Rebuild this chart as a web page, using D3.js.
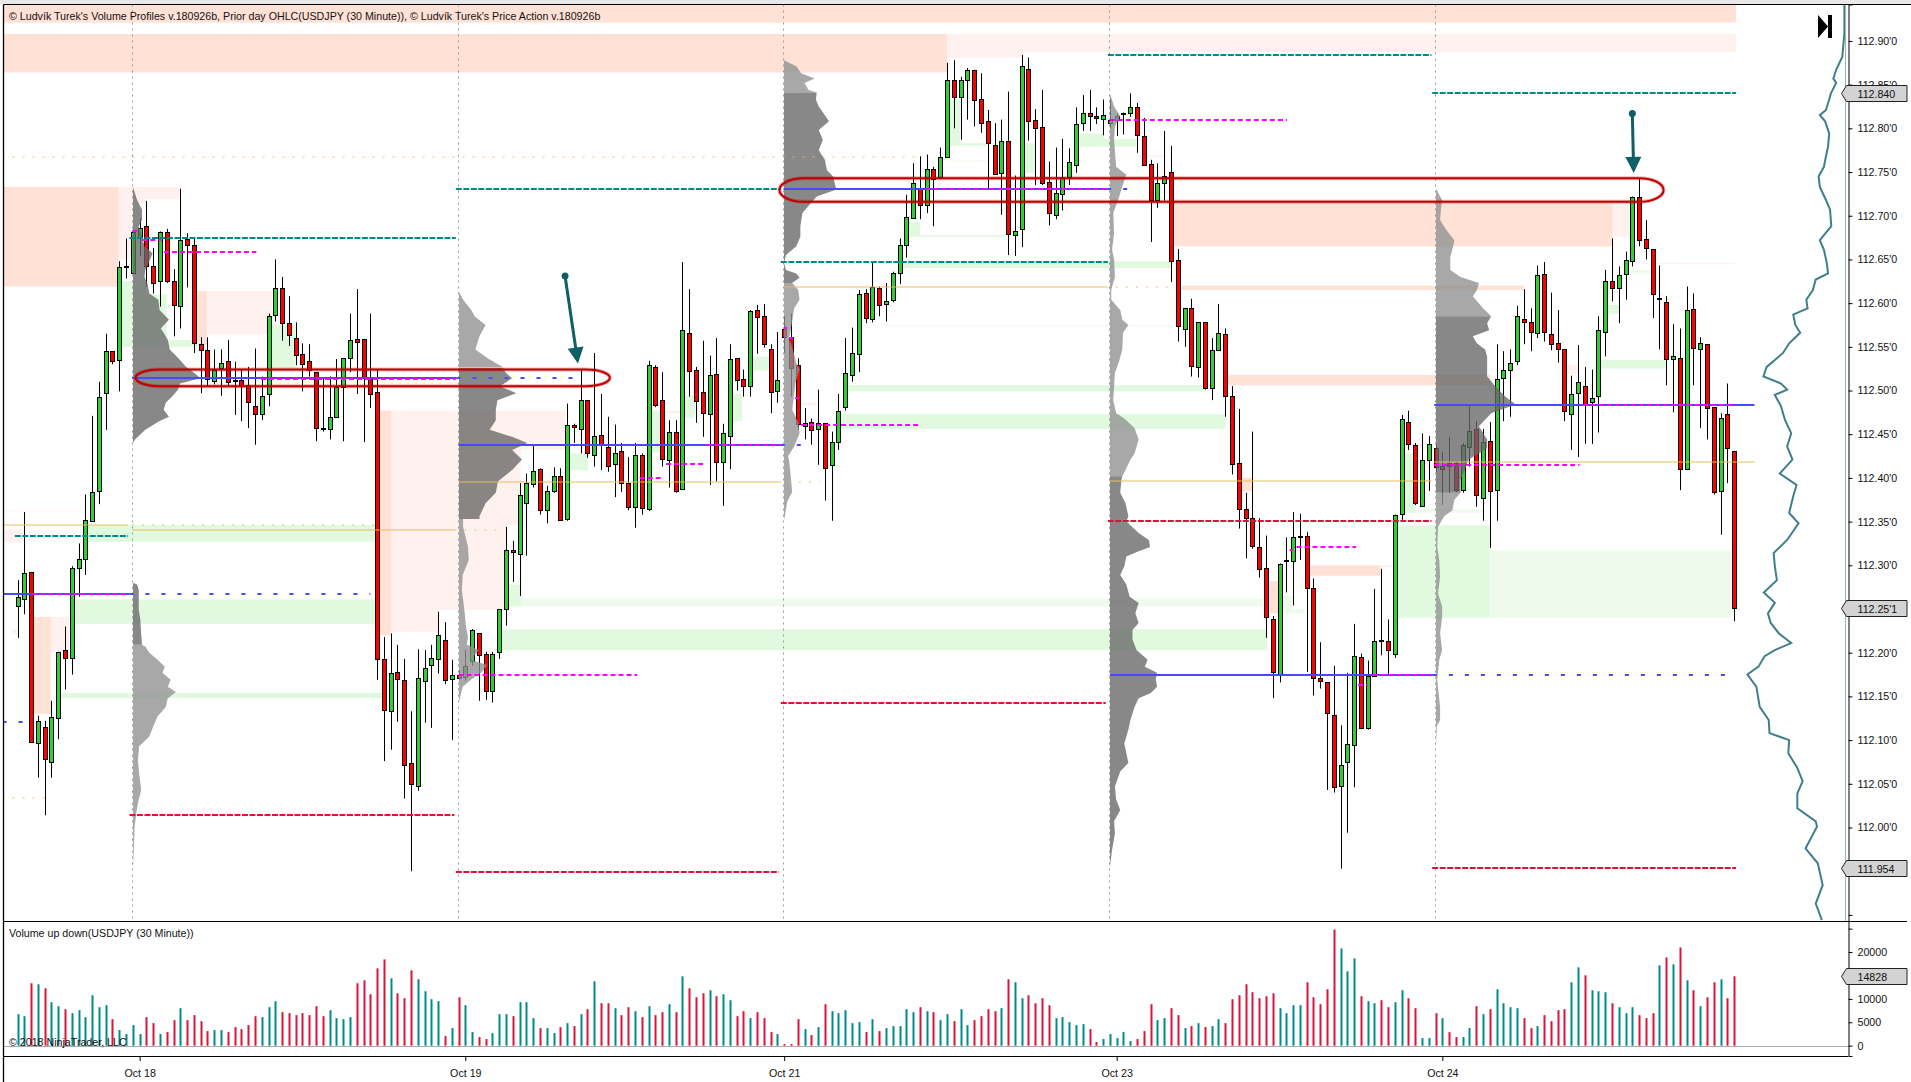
<!DOCTYPE html>
<html>
<head>
<meta charset="utf-8">
<title>USDJPY 30 Minute</title>
<script src="https://cdn.jsdelivr.net/npm/d3@7"></script>
<style>
  html, body { margin: 0; padding: 0; background: #fff; overflow: hidden; }
  text { font-family: "Liberation Sans", Arial, sans-serif; font-size: 10.67px; fill: #111; }
</style>
</head>
<body>
<div id="chart"></div>
<script>
// candles, one entry per 30 minute bar
var opens = [
112.254,112.261,112.292,112.097,112.115,112.074,112.126,112.203,112.194,112.297,
112.307,112.351,112.386,112.497,112.545,112.535,112.641,112.634,112.674,112.688,
112.643,112.625,112.681,112.625,112.597,112.673,112.666,112.553,112.546,112.511,
112.526,112.534,112.512,112.512,112.506,112.482,112.473,112.496,112.586,112.617,
112.577,112.560,112.542,112.534,112.521,112.457,112.456,112.470,112.504,112.537,
112.559,112.559,112.516,112.498,112.193,112.134,112.178,112.169,112.074,112.047,
112.167,112.186,112.193,112.215,112.169,112.175,112.172,112.190,112.222,112.198,
112.157,112.201,112.249,112.318,112.312,112.371,112.393,112.410,112.363,112.385,
112.402,112.352,112.460,112.456,112.489,112.426,112.449,112.435,112.415,112.431,
112.394,112.366,112.426,112.364,112.527,112.489,112.421,112.453,112.387,112.566,
112.524,112.498,112.473,112.519,112.418,112.448,112.537,112.513,112.505,112.592,
112.585,112.547,112.499,112.570,112.561,112.529,112.460,112.464,112.456,112.463,
112.415,112.441,112.481,112.518,112.542,112.612,112.581,112.617,112.599,112.603,
112.635,112.666,112.697,112.731,112.713,112.754,112.744,112.767,112.855,112.836,
112.855,112.867,112.833,112.808,112.781,112.748,112.785,112.678,112.685,112.868,
112.809,112.801,112.739,112.701,112.725,112.744,112.758,112.805,112.817,112.814,
112.810,112.805,112.809,112.816,112.817,112.824,112.791,112.759,112.718,112.737,
112.750,112.649,112.570,112.594,112.526,112.578,112.503,112.546,112.565,112.494,
112.417,112.364,112.354,112.321,112.297,112.238,112.175,112.305,112.304,112.333,
112.333,112.274,112.171,112.166,112.129,112.047,112.075,112.094,112.195,112.114,
112.173,112.214,112.213,112.199,112.358,112.464,112.438,112.368,112.421,112.434,
112.410,112.417,112.417,112.386,112.436,112.456,112.377,112.442,112.386,112.514,
112.524,112.534,112.582,112.578,112.566,112.633,112.565,112.554,112.547,112.473,
112.497,112.505,112.486,112.494,112.567,112.625,112.617,112.633,112.649,112.722,
112.673,112.662,112.605,112.601,112.535,112.537,112.410,112.593,112.547,112.553,
112.481,112.385,112.473,112.431];

var closes = [
112.264,112.291,112.098,112.122,112.078,112.126,112.201,112.194,112.297,112.307,
112.352,112.384,112.493,112.545,112.534,112.641,112.642,112.681,112.686,112.642,
112.624,112.681,112.625,112.597,112.672,112.666,112.554,112.546,112.513,112.524,
112.532,112.510,112.511,112.505,112.486,112.473,112.494,112.585,112.617,112.577,
112.563,112.540,112.530,112.524,112.457,112.456,112.470,112.504,112.537,112.558,
112.556,112.516,112.497,112.193,112.135,112.177,112.170,112.072,112.050,112.171,
112.182,112.194,112.220,112.169,112.174,112.172,112.185,112.226,112.197,112.156,
112.199,112.250,112.317,112.316,112.380,112.394,112.408,112.363,112.385,112.402,
112.352,112.460,112.458,112.489,112.428,112.448,112.439,112.413,112.428,112.394,
112.366,112.426,112.365,112.529,112.484,112.421,112.453,112.386,112.569,112.523,
112.489,112.474,112.518,112.418,112.451,112.536,112.512,112.505,112.591,112.584,
112.553,112.498,112.512,112.561,112.526,112.461,112.463,112.455,112.463,112.412,
112.441,112.477,112.520,112.543,112.611,112.583,112.618,112.598,112.603,112.634,
112.667,112.698,112.737,112.713,112.754,112.743,112.767,112.855,112.836,112.855,
112.867,112.833,112.806,112.783,112.748,112.785,112.679,112.683,112.871,112.809,
112.800,112.737,112.703,112.726,112.744,112.761,112.805,112.817,112.814,112.812,
112.815,112.809,112.814,112.817,112.824,112.792,112.758,112.718,112.737,112.745,
112.648,112.574,112.594,112.528,112.578,112.503,112.546,112.566,112.494,112.416,
112.364,112.354,112.322,112.296,112.241,112.177,112.302,112.306,112.332,112.334,
112.273,112.171,112.167,112.130,112.047,112.071,112.096,112.196,112.114,112.173,
112.213,112.213,112.203,112.358,112.467,112.439,112.372,112.421,112.439,112.412,
112.414,112.414,112.386,112.438,112.454,112.380,112.441,112.385,112.513,112.523,
112.532,112.585,112.578,112.566,112.632,112.567,112.554,112.547,112.476,112.496,
112.510,112.484,112.491,112.569,112.625,112.617,112.632,112.649,112.722,112.673,
112.663,112.611,112.606,112.536,112.539,112.410,112.592,112.548,112.554,112.480,
112.384,112.468,112.434,112.251];

var highs = [
112.283,112.361,112.292,112.128,112.122,112.145,112.201,112.230,112.299,112.325,
112.381,112.471,112.510,112.565,112.545,112.648,112.674,112.681,112.697,112.717,
112.663,112.682,112.685,112.639,112.731,112.680,112.674,112.561,112.561,112.547,
112.547,112.558,112.533,112.524,112.527,112.548,112.516,112.588,112.650,112.630,
112.608,112.578,112.554,112.553,112.521,112.514,112.516,112.536,112.537,112.588,
112.616,112.559,112.588,112.524,112.218,112.222,112.209,112.193,112.133,112.204,
112.203,112.209,112.247,112.235,112.192,112.180,112.203,112.227,112.222,112.201,
112.201,112.250,112.344,112.328,112.394,112.405,112.437,112.411,112.391,112.412,
112.411,112.485,112.462,112.524,112.489,112.543,112.496,112.470,112.461,112.440,
112.424,112.440,112.428,112.534,112.529,112.521,112.466,112.466,112.647,112.616,
112.527,112.557,112.540,112.560,112.462,112.553,112.537,112.524,112.592,112.598,
112.599,112.553,112.567,112.585,112.588,112.537,112.480,112.468,112.501,112.463,
112.453,112.496,112.560,112.572,112.615,112.616,112.646,112.619,112.623,112.636,
112.674,112.724,112.760,112.768,112.770,112.756,112.778,112.875,112.878,112.859,
112.869,112.867,112.863,112.821,112.806,112.810,112.842,112.746,112.884,112.881,
112.822,112.844,112.762,112.778,112.788,112.777,112.824,112.838,112.844,112.824,
112.833,112.833,112.817,112.818,112.840,112.829,112.812,112.764,112.760,112.797,
112.780,112.662,112.594,112.605,112.578,112.578,112.560,112.599,112.571,112.505,
112.479,112.383,112.453,112.354,112.334,112.242,112.302,112.332,112.361,112.359,
112.338,112.285,112.212,112.166,112.185,112.117,112.177,112.233,112.199,112.191,
112.273,112.296,112.238,112.358,112.472,112.477,112.440,112.451,112.448,112.438,
112.430,112.447,112.419,112.440,112.482,112.465,112.456,112.464,112.553,112.545,
112.547,112.597,112.616,112.594,112.643,112.647,112.612,112.592,112.547,112.517,
112.552,112.527,112.524,112.585,112.638,112.674,112.642,112.659,112.722,112.742,
112.695,112.662,112.643,112.608,112.576,112.571,112.619,112.611,112.561,112.553,
112.481,112.474,112.508,112.431];

var lows = [
112.217,112.244,112.098,112.057,112.014,112.057,112.101,112.158,112.175,112.264,
112.289,112.350,112.370,112.455,112.530,112.499,112.628,112.634,112.654,112.619,
112.611,112.596,112.623,112.562,112.571,112.618,112.543,112.497,112.505,112.507,
112.494,112.505,112.472,112.465,112.457,112.438,112.466,112.482,112.579,112.557,
112.551,112.529,112.499,112.516,112.442,112.453,112.444,112.470,112.442,112.521,
112.496,112.441,112.480,112.169,112.076,112.089,112.121,112.033,111.950,112.042,
112.120,112.114,112.176,112.164,112.100,112.169,112.168,112.185,112.145,112.146,
112.143,112.193,112.231,112.281,112.265,112.311,112.389,112.358,112.348,112.383,
112.351,112.351,112.440,112.428,112.423,112.413,112.409,112.407,112.378,112.384,
112.363,112.343,112.358,112.362,112.481,112.413,112.389,112.383,112.386,112.493,
112.463,112.447,112.392,112.396,112.368,112.410,112.500,112.493,112.493,112.542,
112.549,112.474,112.486,112.543,112.493,112.455,112.444,112.438,112.415,112.374,
112.351,112.432,112.477,112.510,112.521,112.577,112.578,112.585,112.579,112.601,
112.622,112.652,112.697,112.696,112.703,112.688,112.743,112.767,112.800,112.787,
112.810,112.802,112.795,112.731,112.747,112.701,112.655,112.654,112.664,112.786,
112.735,112.735,112.689,112.696,112.706,112.735,112.749,112.797,112.797,112.805,
112.792,112.800,112.791,112.793,112.813,112.772,112.757,112.670,112.709,112.717,
112.624,112.556,112.550,112.516,112.515,112.501,112.489,112.546,112.470,112.404,
112.342,112.308,112.319,112.286,112.217,112.148,112.166,112.269,112.254,112.306,
112.178,112.151,112.159,112.043,112.040,111.953,111.994,112.046,112.114,112.112,
112.173,112.197,112.175,112.194,112.352,112.432,112.369,112.367,112.385,112.407,
112.369,112.383,112.384,112.383,112.413,112.367,112.351,112.320,112.351,112.465,
112.470,112.529,112.553,112.545,112.560,112.556,112.546,112.532,112.465,112.432,
112.424,112.439,112.439,112.452,112.539,112.602,112.577,112.604,112.642,112.665,
112.650,112.583,112.547,112.506,112.475,112.386,112.410,112.506,112.457,112.444,
112.381,112.335,112.394,112.236];

var volumes = [
6736,6310,13329,13117,12266,9288,8437,7799,6948,7586,
6097,10777,8224,8650,5672,3332,2482,4396,2482,6097,
4821,2482,2907,5459,8012,5459,6523,5247,3120,3332,
3332,2907,3970,3545,4396,6310,6097,8224,9501,7161,
6948,6523,6948,6523,8437,6310,7586,5885,5672,6097,
13329,13967,10990,16520,18434,14393,11202,10139,16094,14180,
11628,9926,9501,2056,3758,10351,8650,2907,1843,1418,
2694,6736,6736,6310,9288,9288,5885,3758,3758,2694,
3970,4821,4183,6736,7799,13755,9075,9075,8012,6523,
8224,7374,
6097,8437,6523,7161,8863,7161,14818,12266,10351,11202,
11840,10564,10990,9713,6310,7374,5885,7161,5885,2907,
2482,355,355,5672,3545,2269,3970,8863,7374,6948,
7586,4821,5034,2907,5672,3120,3758,4183,4183,7799,
7161,8224,7374,7161,5459,6736,5247,7799,4396,5459,
6310,7799,7374,8012,14180,13542,10139,10777,9075,10139,
8650,5885,6097,5034,4396,4609,3545,780,1418,2482,
1631,2907,993,1418,3120,8863,5459,5885,8012,6523,
3758,4183,4821,3970,4183,5672,4821,9926,10777,13117,
11415,10139,10564,11202,8012,
6948,8650,8650,13542,10351,8863,12053,24815,20774,15882,
18647,10564,9501,9075,9713,8224,9288,11840,10139,8012,
1631,1631,6948,5885,2907,1843,1843,3758,8437,6736,
7799,12053,9075,8224,8012,5885,3758,4183,6523,5247,
7586,7799,13542,16732,15031,11840,11628,11415,9075,8224,
6948,8224,6523,5885,6948,17158,18859,17371,20986,13967,
11840,8437,10351,13542,14180,10139,14828];

var dayBars = [17, 65, 113, 161, 209];          // session separators
var dayTickBars = [18, 66, 113, 162, 210];      // where the date ticks sit
var dayLabels = ["Oct 18", "Oct 19", "Oct 21", "Oct 23", "Oct 24"];
var priceTicks = [112.90,112.85,112.80,112.75,112.70,112.65,112.60,112.55,112.50,112.45,112.40,112.35,112.30,112.25,112.20,112.15,112.10,112.05,112.00,111.95,111.90];
var volumeTicks = [0,5000,10000,15000,20000,25000];
var volumeLabels = [0,5000,10000,20000];

// zones: first bar, last bar, upper price, lower price
var zonesPeachDark = [
[-2.2,253.3,112.942,112.921],[-2.2,137,112.908,112.864],[-2.2,14.9,112.733,112.619],
[26.2,27.9,112.614,112.552],[53.1,55.1,112.477,112.220],[2,4.9,112.241,112.130],
[170.4,235.1,112.714,112.665],[171.3,222,112.620,112.615],[178.2,217.1,112.518,112.506],
[180.2,182,112.400,112.385],[184,186.1,112.282,112.245],[190,200.9,112.300,112.288]];
var zonesPeachLight = [
[137,148,112.908,112.881],[148,253.3,112.908,112.887],[14.9,16.9,112.733,112.650],
[16.9,18.9,112.733,112.714],[18.9,23.9,112.733,112.719],[27.9,37.6,112.614,112.564],
[55.1,62,112.477,112.224],[62,72,112.477,112.249],[72,74.2,112.477,112.346],
[74.2,80.8,112.477,112.432],[-1.9,0.7,112.341,112.326],[-2.2,9.4,112.363,112.362],
[4.9,7.6,112.241,112.201],[94.7,97.7,112.477,112.474],[115.2,117.9,112.486,112.483],
[166.4,169.2,112.769,112.767],[235.1,237.6,112.714,112.676],[241,253.3,112.646,112.645],
[200.9,202.7,112.300,112.298],[228,230,112.529,112.519]];
var zonesGreenDark = [
[9.7,52.8,112.346,112.327],[8.2,52.8,112.261,112.233],[6.1,54,112.154,112.148],
[14.9,18.9,112.625,112.550],[18.9,22,112.610,112.550],[22,26.5,112.558,112.550],
[37.4,41,112.575,112.526],[81.1,84.1,112.428,112.409],[92.9,94.8,112.477,112.429],
[98,99.8,112.494,112.469],[105.1,106.8,112.496,112.465],[108,111,112.539,112.523],
[137.2,139,112.833,112.780],[139,142.9,112.783,112.780],[131.2,133,112.693,112.676],
[133,145.6,112.678,112.676],[148.4,149.9,112.783,112.749],[156.5,160.1,112.794,112.779],
[160.1,164.9,112.788,112.779],[130.3,170.1,112.648,112.640],[122.1,175.2,112.506,112.499],
[121.2,178,112.473,112.456],[203.9,206,112.428,112.360],[203.3,217,112.346,112.240],
[233.3,242.9,112.535,112.525],[234,236,112.598,112.588],[72.1,74.2,112.278,112.253],
[71.4,184.2,112.227,112.203]];
var zonesGreenLight = [
[74.2,183.6,112.262,112.253],[124.2,170.7,112.575,112.574],[136.6,143,112.763,112.762],
[217,252.7,112.317,112.240],[185.8,187.9,112.265,112.245],[187.9,189.7,112.250,112.245],
[237.3,240.8,112.638,112.634],[-0.8,0,112.227,112.222],[206,216,112.364,112.360]];

// levels: first bar, last bar, price
var levelsTeal = [[-0.4,16.3,112.334],[16.5,64.6,112.675],[64.6,112.5,112.731],[112.5,160.7,112.647],[160.7,208.4,112.884],[208.5,253.3,112.840]];
var levelsCrimson = [[16.5,64.4,112.014],[64.6,112.2,111.949],[112.5,160.4,112.143],[160.7,208.4,112.351],[208.5,253.3,111.954]];
var levelsGold = [[-2.2,16.3,112.346],[16.9,64.4,112.340],[65,112.2,112.395],[112.9,160.4,112.618],[161,208.4,112.397],[208.7,256,112.418]];
var levelsGoldDotted = [[-2.2,133,112.767],[-2.2,4,112.034],[64.4,71.5,112.340],[112.2,118.2,112.395],[160.4,170.7,112.618],[16.9,52.8,112.346]];
var levelsBlue = [[-2.2,16.5,112.267],[16.9,64.7,112.514],[65,112.5,112.438],[112.9,160.6,112.731],[161,208.6,112.175],[208.8,256,112.484]];
var levelsBlueDotted = [[16.5,52,112.267],[-2.2,1,112.121],[64.7,83,112.514],[112.5,117,112.438],[160.6,165.2,112.731],[208.6,253.3,112.175]];
var levelsMagenta = [
[16.9,18.1,112.682],[18.4,21.2,112.672],[21.6,35.2,112.658],[35.9,64.6,112.513],[2.2,16.3,112.267],
[65,91.3,112.175],[101.6,112.5,112.438],[115.5,133.2,112.460],[112.9,113.4,112.572],[113.7,114.3,112.560],
[114.6,115.2,112.491],[133.9,160.4,112.731],[161,187.1,112.809],[188.5,197.3,112.321],[199.7,208.4,112.175],
[197.6,199,112.163],[208.8,230.2,112.415],[230.7,253.3,112.484],[95.6,101.2,112.416],[91.7,95,112.400],[187.5,188,112.318]];

// drawn annotations: first bar, last bar, upper price, lower price
var ovals = [[17.4,87.3,112.524,112.505],[112.3,242.6,112.743,112.716]];
// arrows: start bar, start price, end bar, end price
var arrows = [[80.7,112.631,82.6,112.531],[238,112.817,238.2,112.749]];

// volume profiles: price, volume at price (relative)
var profilesDark = [
[[112.733,0],[112.718,10],[112.707,22],[112.695,22],[112.688,14],[112.680,20],[112.665,28],[112.657,48],[112.646,38],[112.638,30],[112.630,28],[112.623,35],[112.611,40],[112.604,62],[112.592,65],[112.581,88],[112.571,68],[112.566,75],[112.558,85],[112.547,90],[112.535,115],[112.527,130],[112.520,150],[112.514,165],[112.508,115],[112.501,110],[112.493,95],[112.486,80],[112.478,75],[112.470,88],[112.465,65],[112.455,30],[112.444,5],[112.440,0]],
[[112.280,0],[112.278,10],[112.272,14],[112.249,14],[112.238,18],[112.222,20],[112.209,22]],
[[112.526,107],[112.520,115],[112.514,130],[112.505,100],[112.497,140],[112.489,94],[112.478,90],[112.466,90],[112.455,75],[112.447,130],[112.440,167],[112.432,130],[112.421,154],[112.409,130],[112.396,95],[112.383,90],[112.371,65],[112.356,50],[112.353,50]],
[[112.841,80],[112.833,78],[112.825,85],[112.815,100],[112.808,110],[112.798,85],[112.787,95],[112.775,85],[112.764,100],[112.752,105],[112.745,120],[112.730,128],[112.722,80],[112.714,65],[112.703,45],[112.688,40],[112.676,40],[112.665,30],[112.655,5],[112.646,0],[112.638,5],[112.634,30],[112.629,38],[112.623,20]],
[[112.402,30],[112.398,28],[112.383,25],[112.371,38],[112.356,45],[112.350,40],[112.337,70],[112.329,95],[112.321,98],[112.316,70],[112.310,40],[112.299,35],[112.289,25],[112.278,40],[112.264,48],[112.257,70],[112.245,62],[112.234,70],[112.226,55],[112.215,55],[112.203,65],[112.192,92],[112.184,85],[112.177,115],[112.169,112],[112.161,115],[112.154,100],[112.148,70],[112.138,60],[112.123,50],[112.112,45],[112.096,35],[112.085,40],[112.074,45],[112.064,25],[112.047,12],[112.032,15],[112.020,25],[112.007,10],[111.993,12],[111.974,5],[111.955,0]],
[[112.585,135],[112.577,125],[112.569,130],[112.562,90],[112.554,100],[112.547,120],[112.539,125],[112.527,125],[112.516,125],[112.505,145],[112.493,170],[112.484,195],[112.474,135],[112.459,105],[112.444,125],[112.434,125],[112.421,80],[112.409,70],[112.398,60],[112.383,60]]];
var profilesDarkBar = [17,17,65,113,161,209];

var profilesLight = [
[[112.209,22],[112.207,30],[112.200,40],[112.192,60],[112.184,78],[112.177,72],[112.169,92],[112.161,85],[112.155,105],[112.148,85],[112.138,80],[112.127,60],[112.116,50],[112.104,40],[112.093,15],[112.077,12],[112.062,15],[112.043,20],[112.028,12],[112.016,8],[112.001,4],[111.952,0]],
[[112.613,0],[112.604,10],[112.592,30],[112.585,38],[112.575,65],[112.562,50],[112.547,40],[112.537,70],[112.527,107]],
[[112.353,10],[112.344,10],[112.321,22],[112.306,24],[112.289,9],[112.272,7],[112.245,14],[112.230,17],[112.218,22],[112.209,19],[112.203,49],[112.192,29],[112.186,69],[112.177,54],[112.169,29],[112.161,9],[112.146,1],[112.142,0]],
[[112.878,0],[112.871,30],[112.863,42],[112.857,75],[112.852,50],[112.844,60],[112.841,80]],
[[112.623,20],[112.615,35],[112.604,38],[112.594,25],[112.579,20],[112.566,15],[112.560,12],[112.547,22],[112.531,30],[112.524,38],[112.508,28],[112.497,25],[112.478,20],[112.463,35],[112.451,38],[112.436,25],[112.425,10],[112.421,12],[112.409,15],[112.394,18],[112.384,20],[112.373,8],[112.356,2],[112.352,0]],
[[112.840,0],[112.825,10],[112.814,25],[112.802,12],[112.787,10],[112.756,15],[112.747,40],[112.741,35],[112.718,20],[112.703,8],[112.680,10],[112.661,5],[112.650,10],[112.630,12],[112.615,3],[112.604,3],[112.592,25],[112.581,30],[112.575,45],[112.566,32],[112.547,30],[112.533,22],[112.520,12],[112.489,8],[112.474,15],[112.468,35],[112.457,60],[112.444,70],[112.428,60],[112.421,50],[112.409,38],[112.402,30]],
[[112.731,0],[112.718,15],[112.707,12],[112.695,10],[112.684,25],[112.672,45],[112.665,42],[112.653,35],[112.638,35],[112.630,60],[112.623,105],[112.615,100],[112.608,90],[112.594,115],[112.585,135]],
[[112.383,60],[112.375,45],[112.363,40],[112.356,20],[112.344,5],[112.321,3],[112.306,8],[112.287,10],[112.268,5],[112.253,15],[112.241,15],[112.222,10],[112.203,15],[112.192,8],[112.169,3],[112.138,10],[112.123,10],[112.116,2],[112.093,0]]];
var profilesLightBar = [17,65,65,113,113,161,209,209];

// composite profile at the right edge: price, volume at price (relative)
var compositeProfile = [
[112.942,3],[112.909,3],[112.882,8],[112.867,23],[112.857,30],[112.852,23],[112.840,36],[112.833,40],[112.821,48],[112.815,63],
[112.808,50],[112.794,40],[112.779,43],[112.768,48],[112.756,53],[112.745,66],[112.733,63],[112.718,48],[112.707,38],[112.688,35],
[112.672,63],[112.661,53],[112.646,46],[112.634,43],[112.627,73],[112.615,80],[112.604,96],[112.594,93],[112.587,128],[112.575,123],
[112.566,111],[112.554,138],[112.543,153],[112.535,173],[112.527,193],[112.516,201],[112.508,158],[112.501,143],[112.495,173],[112.482,158],
[112.466,148],[112.451,133],[112.436,143],[112.421,130],[112.405,161],[112.392,120],[112.379,128],[112.360,138],[112.348,115],[112.329,143],
[112.314,176],[112.299,173],[112.283,168],[112.269,200],[112.257,173],[112.245,190],[112.234,183],[112.222,163],[112.211,133],[112.203,173],
[112.196,198],[112.184,213],[112.175,240],[112.161,218],[112.138,210],[112.123,188],[112.108,186],[112.100,138],[112.085,140],[112.068,118],
[112.053,105],[112.039,118],[112.022,118],[112.007,73],[112.001,70],[111.976,98],[111.959,68],[111.934,56],[111.913,73],[111.894,58]];

var priceFlags = [["112.840",112.840],["112.25'1",112.251],["111.954",111.954]];
var volumeFlag = ["14828",14828];

var titleText = "© Ludvík Turek's Volume Profiles v.180926b, Prior day OHLC(USDJPY (30 Minute)), © Ludvík Turek's Price Action v.180926b";

// layout
var svgWidth = 1911;
var svgHeight = 1082;
var left = 3.5, axisX = 1848.5, flagRight = 1907;
var top0 = 4.5, priceBottom = 921, volumeBottom = 1056;

var svg = d3.select("#chart").append("svg")
  .attr("width", svgWidth)
  .attr("height", svgHeight)
  .style("display", "block");

// Scales
var x = d3.scaleLinear().domain([0, 253]).range([17.5, 1734.1]);
var y = d3.scaleLinear().domain([112.9417, 111.893]).range([top0, priceBottom]);
var yVol = d3.scaleLinear().domain([-2200, 26630]).range([volumeBottom, priceBottom]);
var profileWidth = d3.scaleLinear().domain([0, 100]).range([0, 40.9]);
var compositeX = d3.scaleLinear().domain([0, 100]).range([1845.6, 1804.7]);

svg.append("rect").attr("width", svgWidth).attr("height", 4).attr("fill", "#e8e8e8");

svg.append("clipPath").attr("id", "plot").append("rect")
  .attr("x", left).attr("y", top0).attr("width", axisX - left).attr("height", priceBottom - top0);

var plot = svg.append("g").attr("clip-path", "url(#plot)");

function drawZones(rows, color) {
  plot.append("g").selectAll("rect").data(rows).enter().append("rect")
    .attr("x", d => x(d[0]))
    .attr("y", d => y(d[2]))
    .attr("width", d => x(d[1]) - x(d[0]))
    .attr("height", d => Math.max(1, y(d[3]) - y(d[2])))
    .attr("fill", color)
    .attr("fill-opacity", 0.85);
}

function drawLevels(rows, color, width, dash) {
  plot.append("g").selectAll("line").data(rows).enter().append("line")
    .attr("x1", d => x(d[0]))
    .attr("x2", d => x(d[1]))
    .attr("y1", d => Math.round(y(d[2])))
    .attr("y2", d => Math.round(y(d[2])))
    .attr("stroke", color)
    .attr("stroke-width", width)
    .attr("stroke-dasharray", dash);
}

// zones sit under everything
drawZones(zonesPeachLight, "#fff0eb");
drawZones(zonesPeachDark, "#ffdccf");
drawZones(zonesGreenLight, "#ebfae9");
drawZones(zonesGreenDark, "#dbf8d9");

// day separators
plot.append("g").selectAll("line").data(dayBars).enter().append("line")
  .attr("x1", d => Math.round(x(d)) - 0.5)
  .attr("x2", d => Math.round(x(d)) - 0.5)
  .attr("y1", top0)
  .attr("y2", priceBottom)
  .attr("stroke", "#999999")
  .attr("stroke-dasharray", "2,4");

// Candles
var bars = d3.range(opens.length);
var candles = plot.append("g").selectAll("g").data(bars).enter().append("g")
  .attr("transform", i => `translate(${Math.round(x(i))},0)`);

candles.append("line")
  .attr("x1", 0.5).attr("x2", 0.5)
  .attr("y1", i => y(highs[i]))
  .attr("y2", i => y(lows[i]))
  .attr("stroke", "#000");

candles.append("rect")
  .attr("x", -1.5)
  .attr("width", 4)
  .attr("y", i => Math.round(y(Math.max(opens[i], closes[i]))) + 0.5)
  .attr("height", i => Math.max(1, Math.round(Math.abs(y(opens[i]) - y(closes[i])))))
  .attr("fill", i => closes[i] >= opens[i] ? "#32cd32" : "#ff0000")
  .attr("stroke", "#000");

// Volume profiles, drawn over the candles
function drawProfile(data, startBar, color) {
  var start = Math.round(x(startBar));
  var area = d3.area()
    .y(d => y(d[0]))
    .x0(start)
    .x1(d => start + profileWidth(d[1]));
  plot.append("path")
    .attr("d", area(data))
    .attr("fill", color)
    .attr("fill-opacity", 0.78);
}
profilesLight.forEach((p, i) => drawProfile(p, profilesLightBar[i], "#8f8f8f"));
profilesDark.forEach((p, i) => drawProfile(p, profilesDarkBar[i], "#666666"));

// Levels
drawLevels(levelsGoldDotted, "#e8c25e", 1, "2,8");
drawLevels(levelsGold, "#e6bc5c", 1, null);
drawLevels(levelsTeal, "#008b8b", 2, "6,1.5");
drawLevels(levelsCrimson, "#dc143c", 2, "6,1.5");
drawLevels(levelsBlue, "#4848ff", 2, null);
drawLevels(levelsBlueDotted, "#4848ff", 2, "4,12");
drawLevels(levelsMagenta, "#ff00ff", 2, "5,3");

// Hand drawn ovals and arrows, each oval with a soft outer edge
[["#c00000", 4, 0.3], ["#c00000", 2, 1]].forEach(function(s) {
  plot.append("g").selectAll("rect").data(ovals).enter().append("rect")
    .attr("x", d => x(d[0]))
    .attr("y", d => y(d[2]))
    .attr("width", d => x(d[1]) - x(d[0]))
    .attr("height", d => y(d[3]) - y(d[2]))
    .attr("rx", 24)
    .attr("ry", d => (y(d[3]) - y(d[2])) / 2)
    .attr("fill", "none")
    .attr("stroke", s[0])
    .attr("stroke-width", s[1])
    .attr("stroke-opacity", s[2]);
});

var arrowColor = "#0f5f66";
arrows.forEach(function(a) {
  var x0 = x(a[0]), y0 = y(a[1]), x1 = x(a[2]), y1 = y(a[3]);
  var angle = Math.atan2(y1 - y0, x1 - x0);
  plot.append("circle").attr("cx", x0).attr("cy", y0).attr("r", 3.5).attr("fill", arrowColor);
  plot.append("line")
    .attr("x1", x0).attr("y1", y0)
    .attr("x2", x1 - 12 * Math.cos(angle)).attr("y2", y1 - 12 * Math.sin(angle))
    .attr("stroke", arrowColor).attr("stroke-width", 3);
  plot.append("path")
    .attr("d", "M0,0L-16,-8L-16,8Z")
    .attr("transform", `translate(${x1},${y1}) rotate(${angle * 180 / Math.PI})`)
    .attr("fill", arrowColor);
});

// Composite profile
svg.append("line")
  .attr("x1", 1845.5).attr("x2", 1845.5)
  .attr("y1", top0).attr("y2", priceBottom)
  .attr("stroke", "#8fb8b8");

var compositeLine = d3.line()
  .x(d => compositeX(d[1]))
  .y(d => y(d[0]));
plot.append("path")
  .attr("d", compositeLine(compositeProfile))
  .attr("fill", "none")
  .attr("stroke", "#3f7f8a")
  .attr("stroke-width", 2);

// Volume panel
var volumePanel = svg.append("g");
volumePanel.append("line")
  .attr("x1", left).attr("x2", axisX)
  .attr("y1", Math.round(yVol(0)) + 0.5).attr("y2", Math.round(yVol(0)) + 0.5)
  .attr("stroke", "#aaaaaa");
volumePanel.selectAll("rect").data(bars).enter().append("rect")
  .attr("x", i => Math.round(x(i)) - 0.5)
  .attr("width", 2)
  .attr("y", i => yVol(volumes[i]))
  .attr("height", i => yVol(0) - yVol(volumes[i]))
  .attr("fill", i => closes[i] >= opens[i] ? "#008b8b" : "#dc143c");

// Axes
var priceAxis = d3.axisRight(y)
  .tickValues(priceTicks)
  .tickSize(4)
  .tickPadding(5)
  .tickFormat(d => (d < 111.92) ? "" : d3.format(".2f")(d) + "'0");
svg.append("g").attr("transform", `translate(${axisX},0)`).call(priceAxis);

var volumeAxis = d3.axisRight(yVol)
  .tickValues(volumeTicks)
  .tickSize(4)
  .tickPadding(5)
  .tickFormat(d => volumeLabels.indexOf(d) >= 0 ? d : "");
svg.append("g").attr("transform", `translate(${axisX},0)`).call(volumeAxis);

var dateAxis = d3.axisBottom(x)
  .tickValues(dayTickBars)
  .tickSize(5)
  .tickPadding(8)
  .tickFormat((d, i) => dayLabels[i]);
var dateG = svg.append("g").attr("transform", `translate(0,${volumeBottom})`).call(dateAxis);
dateG.select(".domain").remove();

svg.selectAll(".tick text").style("font-family", '"Liberation Sans", Arial, sans-serif').style("font-size", "10.67px").attr("fill", "#111");
svg.selectAll(".tick line, .domain").attr("stroke", "#000");

// Panel frame
svg.append("line").attr("x1", left).attr("x2", left).attr("y1", top0).attr("y2", svgHeight).attr("stroke", "#000").attr("stroke-width", 1.3);
svg.append("line").attr("x1", left).attr("x2", svgWidth).attr("y1", top0).attr("y2", top0).attr("stroke", "#000");
svg.append("line").attr("x1", left).attr("x2", flagRight).attr("y1", priceBottom + 0.5).attr("y2", priceBottom + 0.5).attr("stroke", "#000");
svg.append("line").attr("x1", left).attr("x2", axisX).attr("y1", volumeBottom + 0.5).attr("y2", volumeBottom + 0.5).attr("stroke", "#000");

// Value flags on the axes
function drawFlag(label, yPos) {
  var yy = Math.round(yPos) + 0.5;
  svg.append("path")
    .attr("d", `M${axisX - 7},${yy}L${axisX - 2},${yy - 8}L${flagRight},${yy - 8}L${flagRight},${yy + 8}L${axisX - 2},${yy + 8}Z`)
    .attr("fill", "#d3d3d3")
    .attr("stroke", "#222");
  svg.append("text").attr("x", axisX + 9).attr("y", yy + 4).text(label);
}
priceFlags.forEach(f => drawFlag(f[0], y(f[1])));
drawFlag(volumeFlag[0], yVol(volumeFlag[1]));

// Texts
svg.append("text").attr("x", 9).attr("y", 20).text(titleText);
svg.append("text").attr("x", 9).attr("y", 937).text("Volume up down(USDJPY (30 Minute))");
svg.append("text").attr("x", 9).attr("y", 1046).text("© 2018 NinjaTrader, LLC");

// Go to last bar button
svg.append("path").attr("d", "M1818,15L1828,26.5L1818,38Z").attr("fill", "#000");
svg.append("rect").attr("x", 1828).attr("y", 15).attr("width", 4).attr("height", 23).attr("fill", "#000");
</script>
</body>
</html>
